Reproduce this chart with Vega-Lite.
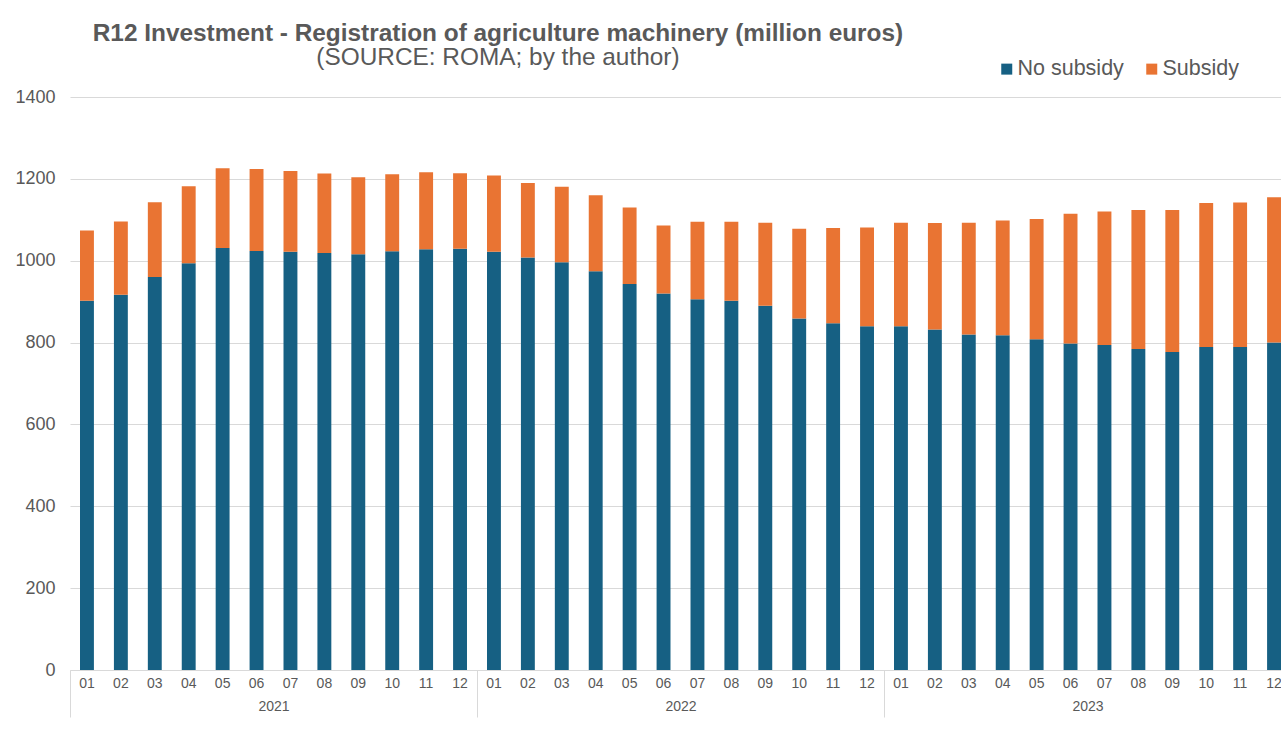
{
  "$schema": "https://vega.github.io/schema/vega-lite/v6.json",
  "autosize": {"type": "none"},
  "padding": {"left": 70, "top": 97, "right": 0, "bottom": 79},
  "width": 1221,
  "height": 573,
  "background": "white",
  "config": {
    "font": "Liberation Sans",
    "view": {"stroke": null},
    "axis": {"labelFont": "Liberation Sans", "labelColor": "#595959", "titleColor": "#595959"}
  },
  "title": {
    "text": "R12 Investment - Registration of agriculture machinery (million euros)",
    "subtitle": "(SOURCE: ROMA; by the author)",
    "anchor": "start",
    "align": "center",
    "dx": 483,
    "offset": -12.5,
    "font": "Liberation Sans",
    "fontSize": 24.4,
    "fontWeight": "bold",
    "color": "#595959",
    "subtitleFont": "Liberation Sans",
    "subtitleFontSize": 24.4,
    "subtitleColor": "#595959",
    "subtitlePadding": 0
  },
  "data": {
    "values": [
      {"key": "2021-01", "year": "2021", "type": "No subsidy", "value": 902},
      {"key": "2021-01", "year": "2021", "type": "Subsidy", "value": 172},
      {"key": "2021-02", "year": "2021", "type": "No subsidy", "value": 917},
      {"key": "2021-02", "year": "2021", "type": "Subsidy", "value": 179},
      {"key": "2021-03", "year": "2021", "type": "No subsidy", "value": 960},
      {"key": "2021-03", "year": "2021", "type": "Subsidy", "value": 183},
      {"key": "2021-04", "year": "2021", "type": "No subsidy", "value": 994},
      {"key": "2021-04", "year": "2021", "type": "Subsidy", "value": 188},
      {"key": "2021-05", "year": "2021", "type": "No subsidy", "value": 1031},
      {"key": "2021-05", "year": "2021", "type": "Subsidy", "value": 195},
      {"key": "2021-06", "year": "2021", "type": "No subsidy", "value": 1024},
      {"key": "2021-06", "year": "2021", "type": "Subsidy", "value": 200},
      {"key": "2021-07", "year": "2021", "type": "No subsidy", "value": 1022},
      {"key": "2021-07", "year": "2021", "type": "Subsidy", "value": 197},
      {"key": "2021-08", "year": "2021", "type": "No subsidy", "value": 1019},
      {"key": "2021-08", "year": "2021", "type": "Subsidy", "value": 194},
      {"key": "2021-09", "year": "2021", "type": "No subsidy", "value": 1016},
      {"key": "2021-09", "year": "2021", "type": "Subsidy", "value": 188},
      {"key": "2021-10", "year": "2021", "type": "No subsidy", "value": 1023},
      {"key": "2021-10", "year": "2021", "type": "Subsidy", "value": 188},
      {"key": "2021-11", "year": "2021", "type": "No subsidy", "value": 1028},
      {"key": "2021-11", "year": "2021", "type": "Subsidy", "value": 188},
      {"key": "2021-12", "year": "2021", "type": "No subsidy", "value": 1029},
      {"key": "2021-12", "year": "2021", "type": "Subsidy", "value": 185},
      {"key": "2022-01", "year": "2022", "type": "No subsidy", "value": 1022},
      {"key": "2022-01", "year": "2022", "type": "Subsidy", "value": 186},
      {"key": "2022-02", "year": "2022", "type": "No subsidy", "value": 1008},
      {"key": "2022-02", "year": "2022", "type": "Subsidy", "value": 182},
      {"key": "2022-03", "year": "2022", "type": "No subsidy", "value": 996},
      {"key": "2022-03", "year": "2022", "type": "Subsidy", "value": 185},
      {"key": "2022-04", "year": "2022", "type": "No subsidy", "value": 974},
      {"key": "2022-04", "year": "2022", "type": "Subsidy", "value": 186},
      {"key": "2022-05", "year": "2022", "type": "No subsidy", "value": 943},
      {"key": "2022-05", "year": "2022", "type": "Subsidy", "value": 187},
      {"key": "2022-06", "year": "2022", "type": "No subsidy", "value": 920},
      {"key": "2022-06", "year": "2022", "type": "Subsidy", "value": 166},
      {"key": "2022-07", "year": "2022", "type": "No subsidy", "value": 906},
      {"key": "2022-07", "year": "2022", "type": "Subsidy", "value": 189},
      {"key": "2022-08", "year": "2022", "type": "No subsidy", "value": 902},
      {"key": "2022-08", "year": "2022", "type": "Subsidy", "value": 193},
      {"key": "2022-09", "year": "2022", "type": "No subsidy", "value": 890},
      {"key": "2022-09", "year": "2022", "type": "Subsidy", "value": 203},
      {"key": "2022-10", "year": "2022", "type": "No subsidy", "value": 859},
      {"key": "2022-10", "year": "2022", "type": "Subsidy", "value": 219},
      {"key": "2022-11", "year": "2022", "type": "No subsidy", "value": 847},
      {"key": "2022-11", "year": "2022", "type": "Subsidy", "value": 233},
      {"key": "2022-12", "year": "2022", "type": "No subsidy", "value": 840},
      {"key": "2022-12", "year": "2022", "type": "Subsidy", "value": 241},
      {"key": "2023-01", "year": "2023", "type": "No subsidy", "value": 840},
      {"key": "2023-01", "year": "2023", "type": "Subsidy", "value": 253},
      {"key": "2023-02", "year": "2023", "type": "No subsidy", "value": 832},
      {"key": "2023-02", "year": "2023", "type": "Subsidy", "value": 260},
      {"key": "2023-03", "year": "2023", "type": "No subsidy", "value": 820},
      {"key": "2023-03", "year": "2023", "type": "Subsidy", "value": 273},
      {"key": "2023-04", "year": "2023", "type": "No subsidy", "value": 818},
      {"key": "2023-04", "year": "2023", "type": "Subsidy", "value": 280},
      {"key": "2023-05", "year": "2023", "type": "No subsidy", "value": 808},
      {"key": "2023-05", "year": "2023", "type": "Subsidy", "value": 294},
      {"key": "2023-06", "year": "2023", "type": "No subsidy", "value": 798},
      {"key": "2023-06", "year": "2023", "type": "Subsidy", "value": 317},
      {"key": "2023-07", "year": "2023", "type": "No subsidy", "value": 794},
      {"key": "2023-07", "year": "2023", "type": "Subsidy", "value": 326},
      {"key": "2023-08", "year": "2023", "type": "No subsidy", "value": 784},
      {"key": "2023-08", "year": "2023", "type": "Subsidy", "value": 340},
      {"key": "2023-09", "year": "2023", "type": "No subsidy", "value": 777},
      {"key": "2023-09", "year": "2023", "type": "Subsidy", "value": 347},
      {"key": "2023-10", "year": "2023", "type": "No subsidy", "value": 789},
      {"key": "2023-10", "year": "2023", "type": "Subsidy", "value": 352},
      {"key": "2023-11", "year": "2023", "type": "No subsidy", "value": 789},
      {"key": "2023-11", "year": "2023", "type": "Subsidy", "value": 353},
      {"key": "2023-12", "year": "2023", "type": "No subsidy", "value": 800},
      {"key": "2023-12", "year": "2023", "type": "Subsidy", "value": 355}
    ]
  },
  "layer": [
    {
      "mark": {"type": "bar"},
      "encoding": {
        "x": {
          "field": "key",
          "type": "ordinal",
          "sort": null,
          "scale": {"type": "band", "paddingInner": 0.59, "paddingOuter": 0.295},
          "axis": {
            "title": null,
            "labelExpr": "substring(datum.value, 5)",
            "labelAngle": 0,
            "labelFontSize": 14,
            "labelPadding": 6,
            "ticks": false,
            "domainColor": "#d9d9d9",
            "domainWidth": 1,
            "grid": false
          }
        },
        "y": {
          "field": "value",
          "type": "quantitative",
          "stack": "zero",
          "scale": {"domain": [0, 1400], "nice": false},
          "axis": {
            "title": null,
            "values": [0, 200, 400, 600, 800, 1000, 1200, 1400],
            "format": "d",
            "labelFontSize": 18,
            "labelPadding": 15,
            "ticks": false,
            "domain": false,
            "gridColor": "#d9d9d9",
            "gridWidth": 1
          }
        },
        "color": {
          "field": "type",
          "type": "nominal",
          "scale": {"domain": ["No subsidy", "Subsidy"], "range": ["#166083", "#e97433"]},
          "legend": {
            "title": null,
            "orient": "none",
            "legendX": 926,
            "legendY": -39,
            "direction": "horizontal",
            "symbolType": "square",
            "symbolSize": 121,
            "symbolStrokeWidth": 0,
            "labelFontSize": 21.5,
            "labelColor": "#595959",
            "labelFont": "Liberation Sans",
            "labelOffset": 0,
            "columnPadding": 17
          }
        },
        "order": {"field": "type", "sort": "ascending"}
      }
    },
    {
      "mark": {"type": "rule", "strokeOpacity": 0},
      "encoding": {
        "x": {
          "field": "year",
          "type": "ordinal",
          "scale": {"type": "band", "paddingInner": 0, "paddingOuter": 0},
          "axis": {
            "title": null,
            "orient": "bottom",
            "labelAngle": 0,
            "labelFontSize": 14,
            "domain": false,
            "grid": false,
            "ticks": true,
            "tickBand": "extent",
            "tickSize": 47,
            "tickColor": "#d9d9d9",
            "tickWidth": 1,
            "labelPadding": -18
          }
        }
      }
    }
  ],
  "resolve": {"scale": {"x": "independent"}, "axis": {"x": "independent"}}
}
